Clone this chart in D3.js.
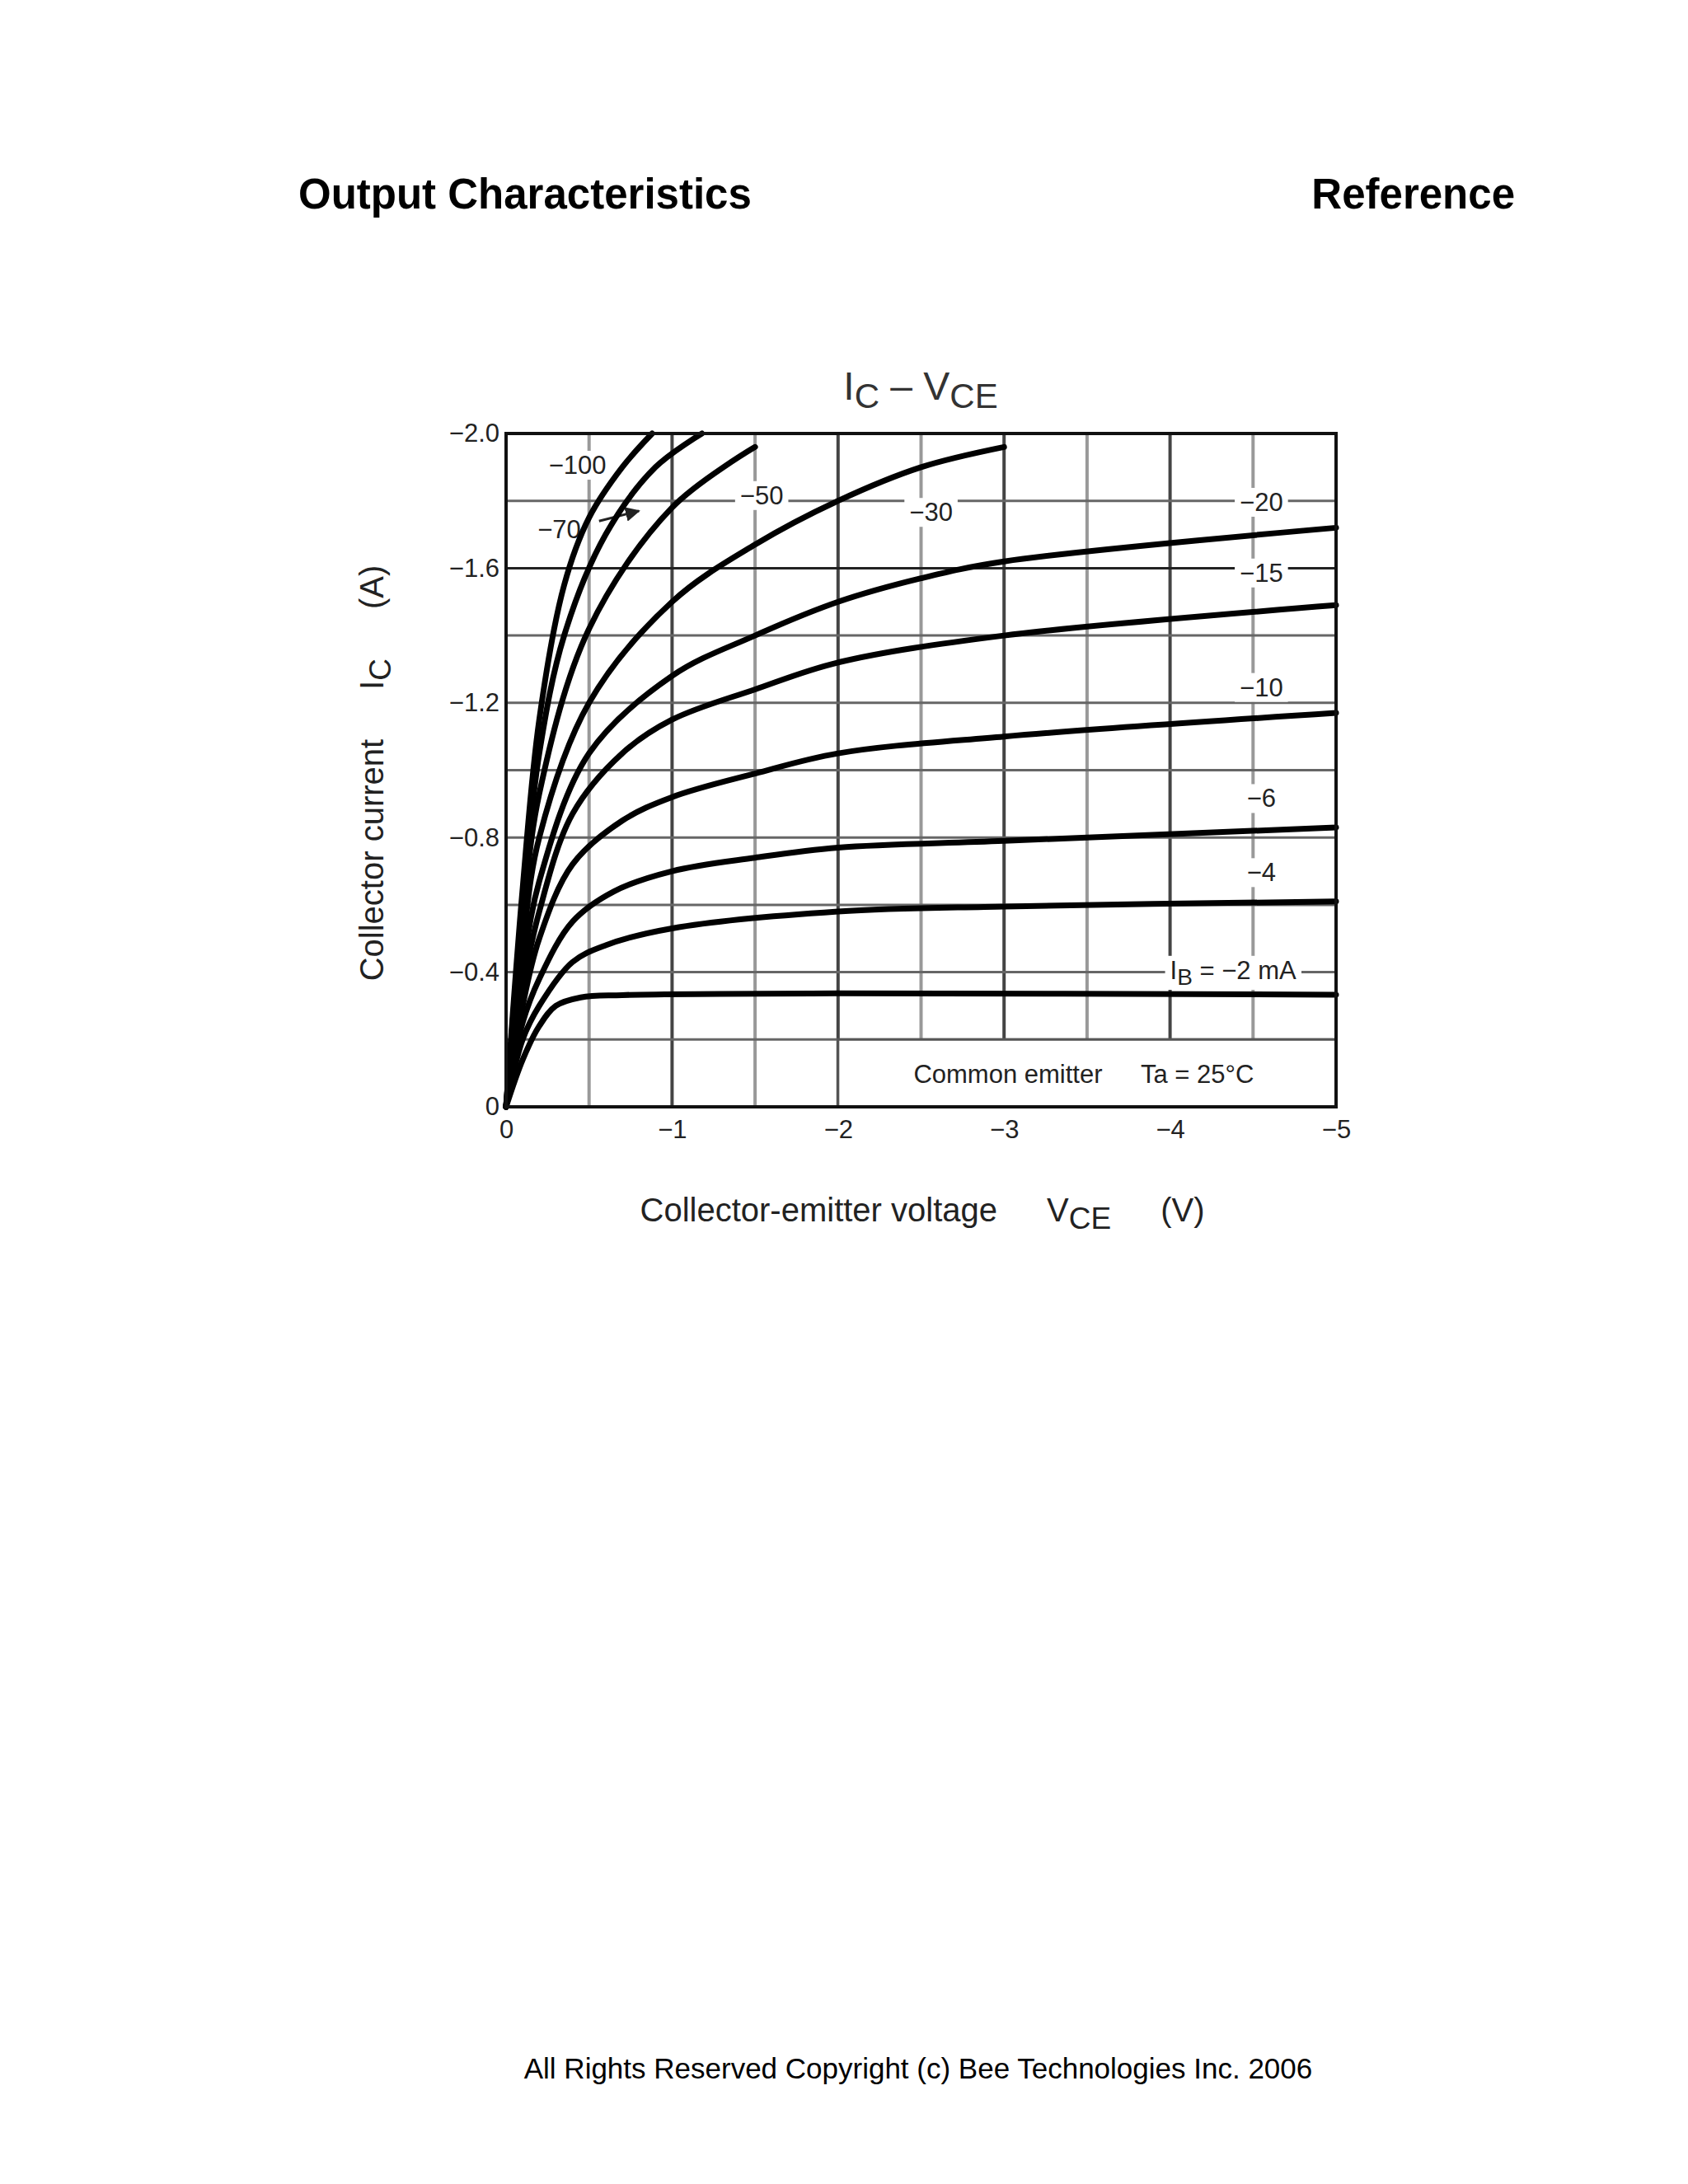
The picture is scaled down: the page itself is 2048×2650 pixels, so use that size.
<!DOCTYPE html>
<html><head><meta charset="utf-8">
<script src="https://cdn.jsdelivr.net/npm/d3@7"></script>
<style>body{margin:0;background:#fff}text{font-family:"Liberation Sans",Arial,sans-serif}</style>
</head><body>
<script>
// I_B curves, points are [V_CE, I_C]
const ib2 = [[0,0],[-0.1,-0.14],[-0.2,-0.24],[-0.3,-0.3],[-0.45,-0.325],[-0.7,-0.332],[-2,-0.337],[-5,-0.333]];
const ib4 = [[0,0],[-0.1,-0.2],[-0.2,-0.3],[-0.4,-0.43],[-0.6,-0.48],[-1,-0.53],[-2,-0.58],[-3,-0.595],[-5,-0.61]];
const ib6 = [[0,0],[-0.1,-0.25],[-0.2,-0.38],[-0.4,-0.55],[-0.65,-0.64],[-1,-0.7],[-1.5,-0.74],[-2,-0.77],[-3,-0.79],[-5,-0.83]];
const ib10 = [[0,0],[-0.1,-0.3],[-0.2,-0.5],[-0.4,-0.72],[-0.7,-0.85],[-1,-0.92],[-1.5,-0.99],[-2,-1.05],[-3,-1.1],[-5,-1.17]];
const ib15 = [[0,0],[-0.1,-0.35],[-0.2,-0.58],[-0.4,-0.87],[-0.7,-1.05],[-1,-1.15],[-1.5,-1.24],[-2,-1.32],[-3,-1.4],[-5,-1.49]];
const ib20 = [[0,0],[-0.1,-0.4],[-0.2,-0.67],[-0.5,-1.05],[-1,-1.28],[-1.5,-1.4],[-2,-1.5],[-2.5,-1.57],[-3,-1.62],[-5,-1.72]];
const ib30 = [[0,0],[-0.1,-0.48],[-0.2,-0.8],[-0.5,-1.2],[-1,-1.5],[-1.5,-1.67],[-2,-1.8],[-2.5,-1.9],[-3,-1.96]];
const ib50 = [[0,0],[-0.1,-0.55],[-0.2,-0.93],[-0.5,-1.42],[-1,-1.78],[-1.5,-1.96]];
const ib70 = [[0,0],[-0.1,-0.6],[-0.2,-1.05],[-0.35,-1.4],[-0.6,-1.7],[-0.9,-1.9],[-1.18,-2.0]];
const ib100 = [[0,0],[-0.1,-0.65],[-0.2,-1.15],[-0.35,-1.55],[-0.5,-1.75],[-0.7,-1.9],[-0.88,-2.0]];
const curves = [ib2, ib4, ib6, ib10, ib15, ib20, ib30, ib50, ib70, ib100];

const xTicks = [0,-1,-2,-3,-4,-5];
const yTicks = [0,-0.4,-0.8,-1.2,-1.6,-2.0];
const xGrid = [-0.5,-1,-1.5,-2,-2.5,-3,-3.5,-4,-4.5];
const yGrid = [-0.2,-0.4,-0.6,-0.8,-1.0,-1.2,-1.4,-1.6,-1.8];

// curve labels: [V, I, text]
const curveLabels = [[-0.43,-1.9,"−100"],[-0.32,-1.71,"−70"],[-1.54,-1.81,"−50"],[-2.56,-1.76,"−30"],
  [-4.55,-1.79,"−20"],[-4.55,-1.58,"−15"],[-4.55,-1.24,"−10"],[-4.55,-0.91,"−6"],[-4.55,-0.69,"−4"]];

const W = 2048, H = 2650;
const svg = d3.select("body").append("svg").attr("width", W).attr("height", H);
const L = 614, R = 1621, T = 526, B = 1343;
const x = d3.scaleLinear().domain([0,-5]).range([L,R]);
const y = d3.scaleLinear().domain([0,-2]).range([B,T]);
const fmtX = d => d === 0 ? "0" : "−" + Math.abs(d);
const fmtY = d => d === 0 ? "0" : "−" + Math.abs(d).toFixed(1);

// page texts
svg.append("text").attr("x", 362).attr("y", 253).attr("font-size", 51).attr("font-weight", "bold").text("Output Characteristics");
svg.append("text").attr("x", 1838).attr("y", 253).attr("font-size", 51).attr("font-weight", "bold").attr("text-anchor", "end").text("Reference");
svg.append("text").attr("x", 1114).attr("y", 2522).attr("font-size", 35).attr("text-anchor", "middle").text("All Rights Reserved Copyright (c) Bee Technologies Inc. 2006");

// grid
const g = svg.append("g");
g.selectAll(".vg").data(xGrid).join("line")
  .attr("x1", d => x(d)).attr("x2", d => x(d)).attr("y1", T).attr("y2", B)
  .attr("stroke", d => Number.isInteger(d) ? "#444" : "#999").attr("stroke-width", 4);
g.selectAll(".hg").data(yGrid).join("line")
  .attr("y1", d => y(d)).attr("y2", d => y(d)).attr("x1", L).attr("x2", R)
  .attr("stroke", d => Math.abs(d) === 1.6 ? "#222" : "#666").attr("stroke-width", 3);

// inset box
g.append("rect").attr("x", x(-2)).attr("y", y(-0.2)).attr("width", x(-5) - x(-2)).attr("height", y(0) - y(-0.2))
  .attr("fill", "#fff").attr("stroke", "#555").attr("stroke-width", 3);
g.append("text").attr("x", x(-3.48)).attr("y", y(-0.09)).attr("font-size", 31).attr("text-anchor", "middle")
  .attr("dominant-baseline", "middle").attr("fill", "#222").text("Common emitter\u2003\u2002Ta = 25°C");

// label backgrounds to break grid lines
const lab = svg.append("g");
curveLabels.forEach(([v, i, t]) => {
  const tx = lab.append("text").attr("x", x(v)).attr("y", y(i)).attr("font-size", 31).attr("text-anchor", "middle")
    .attr("dominant-baseline", "middle").attr("fill", "#222").text(t);
  const bb = tx.node().getBBox();
  lab.insert("rect", "text").attr("x", bb.x - 6).attr("y", bb.y).attr("width", bb.width + 12).attr("height", bb.height).attr("fill", "#fff");
});
{
  const tx = lab.append("text").attr("x", x(-4.38)).attr("y", y(-0.4)).attr("font-size", 31).attr("text-anchor", "middle")
    .attr("dominant-baseline", "middle").attr("fill", "#222");
  tx.append("tspan").text("I");
  tx.append("tspan").attr("dy", 8).attr("font-size", 28).text("B");
  tx.append("tspan").attr("dy", -8).text(" = −2 mA");
  const bb = tx.node().getBBox();
  lab.insert("rect", "text").attr("x", bb.x - 6).attr("y", bb.y).attr("width", bb.width + 12).attr("height", bb.height).attr("fill", "#fff");
}
// arrow for -70
svg.append("defs").append("marker").attr("id", "ah").attr("viewBox", "0 0 10 10").attr("refX", 9).attr("refY", 5)
  .attr("markerWidth", 6).attr("markerHeight", 6).attr("orient", "auto")
  .append("path").attr("d", "M0,0L10,5L0,10z").attr("fill", "#222");
svg.append("line").attr("x1", x(-0.56)).attr("y1", y(-1.74)).attr("x2", x(-0.8)).attr("y2", y(-1.77))
  .attr("stroke", "#222").attr("stroke-width", 3).attr("marker-end", "url(#ah)");

// curves
const line = d3.line().x(d => x(d[0])).y(d => y(d[1])).curve(d3.curveCatmullRom.alpha(0.5));
svg.append("g").selectAll("path").data(curves).join("path")
  .attr("d", line).attr("fill", "none").attr("stroke", "#000").attr("stroke-width", 7).attr("stroke-linecap", "round");

// frame
svg.append("rect").attr("x", L).attr("y", T).attr("width", R - L).attr("height", B - T)
  .attr("fill", "none").attr("stroke", "#111").attr("stroke-width", 4);

// axes
const ax = svg.append("g").attr("transform", `translate(0,${B})`)
  .call(d3.axisBottom(x).tickValues(xTicks).tickFormat(fmtX).tickSize(0).tickPadding(16));
const ay = svg.append("g").attr("transform", `translate(${L},0)`)
  .call(d3.axisLeft(y).tickValues(yTicks).tickFormat(fmtY).tickSize(0).tickPadding(8));
[ax, ay].forEach(a => { a.select(".domain").remove(); a.selectAll("text").attr("font-size", 31).attr("fill", "#222").style("font-family", "Liberation Sans, Arial"); });

// titles
const tt = svg.append("text").attr("x", 1117).attr("y", 485).attr("font-size", 48).attr("text-anchor", "middle").attr("fill", "#333");
tt.append("tspan").text("I");
tt.append("tspan").attr("dy", 10).attr("font-size", 42).text("C");
tt.append("tspan").attr("dy", -10).text(" – V");
tt.append("tspan").attr("dy", 10).attr("font-size", 42).text("CE");

const xl = svg.append("text").attr("x", 1119).attr("y", 1482).attr("font-size", 40).attr("text-anchor", "middle").attr("fill", "#222");
xl.append("tspan").text("Collector-emitter voltage\u2003\u2002V");
xl.append("tspan").attr("dy", 9).attr("font-size", 37).text("CE");
xl.append("tspan").attr("dy", -9).text("\u2003\u2002(V)");

const yl = svg.append("text").attr("transform", "translate(465,938) rotate(-90)").attr("font-size", 40).attr("text-anchor", "middle").attr("fill", "#222");
yl.append("tspan").text("Collector current\u2003\u2002I");
yl.append("tspan").attr("dy", 9).attr("font-size", 37).text("C");
yl.append("tspan").attr("dy", -9).text("\u2003\u2002(A)");
</script>
</body></html>
